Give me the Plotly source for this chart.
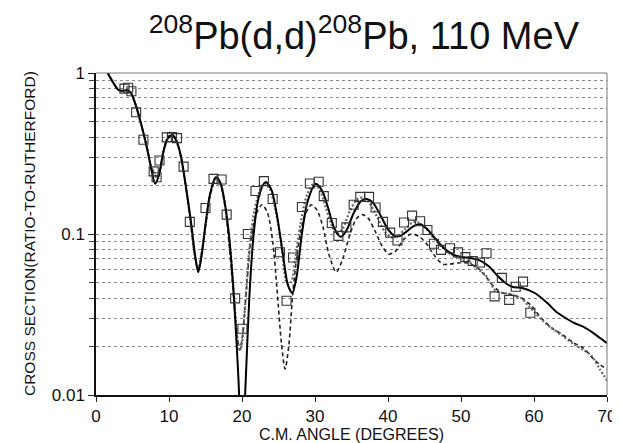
import plotly.graph_objects as go

# ---------------- data ----------------
exp_angle = [3.9, 4.4, 4.85, 5.5, 6.5, 7.9, 8.3, 8.7, 9.7, 10.4, 11.1, 12.0, 12.85,
             15.0, 16.1, 17.2, 17.9, 19.06, 20.06, 20.8, 21.85, 23.0, 24.2, 25.2,
             26.1, 27.0, 28.2, 29.3, 30.5, 31.2, 32.3, 33.2, 34.3, 35.3, 36.2, 37.4,
             38.3, 39.3, 40.3, 41.3, 42.2, 43.3, 44.4, 45.4, 46.3, 47.25, 48.5, 49.6,
             50.6, 51.6, 52.6, 53.5, 54.6, 55.6, 56.6, 57.5, 58.5, 59.5]
exp_ratio = [0.80, 0.81, 0.77, 0.57, 0.385, 0.245, 0.225, 0.286, 0.398, 0.40, 0.394, 0.262, 0.119,
             0.145, 0.22, 0.218, 0.132, 0.0398, 0.0258, 0.10, 0.185, 0.213, 0.165, 0.077,
             0.0385, 0.0714, 0.147, 0.206, 0.211, 0.172, 0.117, 0.0973, 0.110, 0.152, 0.170, 0.170,
             0.146, 0.119, 0.102, 0.0912, 0.118, 0.13, 0.12, 0.106, 0.087, 0.0797, 0.0815, 0.0769,
             0.0718, 0.068, 0.0665, 0.076, 0.041, 0.0534, 0.039, 0.047, 0.0506, 0.0324]

solid_angle = [1.6, 2.3, 3.0, 3.5, 4.3, 4.8, 5.5, 6.3, 7.0, 7.6, 8.1, 8.6, 9.2, 9.8, 10.4,
               11.0, 11.6, 12.3, 13.0, 13.5, 14.0, 14.5, 15.0, 15.6, 16.4, 17.0, 17.6,
               18.3, 18.9, 19.5, 20.0, 20.5, 21.0, 21.6, 22.3, 23.2, 24.0, 24.8, 25.6,
               26.3, 26.9, 27.5, 28.2, 29.0, 30.1, 31.0, 31.8, 32.6, 33.5, 34.3, 35.3,
               36.3, 37.1, 38.0, 39.0, 40.0, 41.0, 41.6, 42.5, 43.5, 44.4, 45.3, 46.2,
               47.5, 48.8, 50.0, 51.2, 52.4, 53.8, 55.0, 56.0, 57.0, 58.5, 60.1, 61.9,
               63.0, 64.1, 65.5, 66.8, 68.0, 69.1, 70.0]
solid_ratio = [1.0, 0.88, 0.79, 0.775, 0.78, 0.75, 0.62, 0.46, 0.34, 0.25, 0.205, 0.23, 0.32, 0.39, 0.41,
               0.38, 0.31, 0.20, 0.12, 0.078, 0.058, 0.075, 0.115, 0.175, 0.225, 0.21, 0.16,
               0.09, 0.04, 0.013, 0.004, 0.012, 0.04, 0.10, 0.17, 0.21, 0.19, 0.13, 0.075,
               0.048, 0.043, 0.055, 0.10, 0.16, 0.205, 0.185, 0.145, 0.11, 0.096, 0.105, 0.135,
               0.16, 0.165, 0.155, 0.13, 0.107, 0.097, 0.097, 0.103, 0.112, 0.115, 0.108, 0.097,
               0.083, 0.075, 0.072, 0.071, 0.069, 0.063, 0.055, 0.05, 0.047, 0.046, 0.043, 0.037,
               0.033, 0.0305, 0.028, 0.0265, 0.0245, 0.0225, 0.021]

dotted_angle = [1.6, 2.3, 3.0, 3.5, 4.3, 4.8, 5.5, 6.3, 7.0, 7.6, 8.3, 8.8, 9.4, 10.2, 10.8,
                11.5, 12.2, 12.9, 13.5, 14.0, 14.5, 15.1, 15.7, 16.5, 17.1, 17.7, 18.4,
                19.0, 19.4, 19.7, 20.0, 20.4, 21.0, 21.7, 22.6, 23.1, 23.8, 24.6, 25.4,
                26.2, 26.7, 27.3, 28.0, 28.9, 29.8, 30.6, 31.5, 32.3, 33.0, 33.8, 34.8,
                35.8, 36.6, 37.5, 38.5, 39.6, 40.6, 41.4, 42.4, 43.4, 44.2, 45.2, 46.2,
                47.5, 48.8, 50.0, 51.1, 52.2, 53.3, 54.0, 54.7, 55.6, 56.5, 57.5, 58.3,
                59.2, 60.1, 61.2, 62.3, 63.8, 65.5, 66.8, 67.9, 69.0, 70.0]
dotted_ratio = [1.0, 0.88, 0.79, 0.775, 0.78, 0.75, 0.62, 0.46, 0.34, 0.26, 0.225, 0.25, 0.35, 0.43, 0.40,
                0.32, 0.21, 0.125, 0.075, 0.06, 0.078, 0.12, 0.18, 0.225, 0.205, 0.15, 0.08,
                0.036, 0.022, 0.019, 0.021, 0.035, 0.08, 0.14, 0.195, 0.205, 0.19, 0.14, 0.085,
                0.049, 0.05, 0.07, 0.115, 0.175, 0.205, 0.19, 0.145, 0.112, 0.10, 0.108, 0.14,
                0.165, 0.168, 0.155, 0.128, 0.103, 0.095, 0.098, 0.108, 0.118, 0.118, 0.108, 0.095,
                0.082, 0.074, 0.07, 0.067, 0.061, 0.056, 0.05, 0.0445, 0.043, 0.0427, 0.041, 0.0398,
                0.036, 0.0325, 0.029, 0.0262, 0.0235, 0.0206, 0.019, 0.0175, 0.0145, 0.0123]

dashed_angle = [1.6, 2.3, 3.0, 3.5, 4.3, 4.8, 5.5, 6.3, 7.0, 7.6, 8.3, 8.8, 9.4, 10.2, 10.8,
                11.5, 12.2, 12.9, 13.5, 14.0, 14.5, 15.1, 15.7, 16.5, 17.1, 17.7, 18.3,
                18.9, 19.4, 19.7, 20.1, 20.6, 21.2, 22.0, 22.75, 23.5, 24.2, 24.8, 25.4,
                25.9, 26.4, 27.0, 27.8, 28.6, 29.5, 30.3, 31.1, 31.9, 32.9, 33.8, 34.8,
                35.7, 36.5, 37.3, 38.2, 39.2, 40.1, 41.0, 42.1, 43.2, 44.2, 45.2, 46.3,
                47.5, 48.5, 49.5, 51.0, 52.4, 53.3, 54.0, 55.0, 55.8, 57.0, 58.3, 59.6,
                61.0, 62.5, 64.0, 65.5, 66.8, 68.0, 69.0, 70.0]
dashed_ratio = [1.0, 0.88, 0.79, 0.775, 0.78, 0.75, 0.62, 0.46, 0.34, 0.26, 0.228, 0.255, 0.35, 0.42, 0.40,
                0.32, 0.21, 0.125, 0.075, 0.06, 0.078, 0.12, 0.18, 0.222, 0.20, 0.145, 0.08,
                0.038, 0.022, 0.019, 0.024, 0.045, 0.09, 0.135, 0.152, 0.135, 0.09, 0.045, 0.021,
                0.0145, 0.02, 0.045, 0.09, 0.13, 0.152, 0.14, 0.11, 0.075, 0.058, 0.07, 0.10,
                0.125, 0.132, 0.125, 0.105, 0.084, 0.075, 0.078, 0.092, 0.10, 0.097, 0.088, 0.074,
                0.065, 0.065, 0.066, 0.066, 0.061, 0.055, 0.05, 0.045, 0.043, 0.042, 0.040, 0.036,
                0.030, 0.026, 0.0235, 0.021, 0.0195, 0.017, 0.0155, 0.0144]

y_tickvals = [0.01, 0.1, 1]
y_ticktext = ["0.01", "0.1", "1"]
x_tickvals = [0, 10, 20, 30, 40, 50, 60, 70]

FONT = "Liberation Sans, Arial, Helvetica, sans-serif"

fig = go.Figure()
fig.add_trace(go.Scatter(x=dashed_angle, y=dashed_ratio, mode="lines",
                         line=dict(color="#222", width=1.6, dash="4px,3px", shape="spline", smoothing=0.8),
                         showlegend=False))
fig.add_trace(go.Scatter(x=dotted_angle, y=dotted_ratio, mode="lines",
                         line=dict(color="#666", width=2.2, dash="2px,2px", shape="spline", smoothing=0.8),
                         showlegend=False))
fig.add_trace(go.Scatter(x=solid_angle, y=solid_ratio, mode="lines",
                         line=dict(color="#000", width=2, shape="spline", smoothing=0.8),
                         showlegend=False))
fig.add_trace(go.Scatter(x=exp_angle, y=exp_ratio, mode="markers",
                         marker=dict(symbol="square-open", size=9, color="#333", line=dict(width=1.1)),
                         showlegend=False))

fig.update_layout(
    width=620, height=443,
    margin=dict(l=88, r=13, t=65, b=40),
    paper_bgcolor="white", plot_bgcolor="white",
    font=dict(family=FONT, color="#111"),
    title=dict(text="<sup>208</sup>Pb(d,d)<sup>208</sup>Pb, 110 MeV",
               font=dict(size=38, family=FONT, color="#111"),
               x=0.574, xref="container", xanchor="center",
               y=0.938, yref="container", yanchor="middle"),
    annotations=[dict(text="CROSS SECTION(RATIO-TO-RUTHERFORD)", textangle=-90,
                      xref="paper", yref="paper", x=-68/519, y=0.5,
                      xanchor="center", yanchor="middle", showarrow=False,
                      font=dict(size=15.5, family=FONT, color="#111"))],
)
fig.update_xaxes(range=[0, 70], tickvals=x_tickvals, ticks="outside", ticklen=5,
                 tickcolor="#222", showline=True, linecolor="#111", linewidth=1.5,
                 mirror=False, showgrid=False, zeroline=False,
                 tickfont=dict(size=17, family=FONT, color="#111"),
                 title=dict(text="C.M. ANGLE (DEGREES)", standoff=2,
                            font=dict(size=16, family=FONT, color="#111")))
fig.update_yaxes(type="log", range=[-2, 0], tickvals=y_tickvals, ticktext=y_ticktext,
                 ticks="outside", ticklen=6, tickcolor="#222",
                 showline=True, linecolor="#111", linewidth=1.5, mirror=False,
                 showgrid=True, gridcolor="#888", griddash="dot", gridwidth=1,
                 zeroline=False,
                 tickfont=dict(size=17, family=FONT, color="#111"),
                 minor=dict(dtick="D1", ticks="outside", ticklen=5, tickcolor="#444",
                            showgrid=True, gridcolor="#888", griddash="dot", gridwidth=1))
# light top and right frame
fig.add_shape(type="line", xref="paper", yref="paper", x0=0, x1=1, y0=1, y1=1,
              line=dict(color="#777", width=1))
fig.add_shape(type="line", xref="paper", yref="paper", x0=1, x1=1, y0=0, y1=1,
              line=dict(color="#777", width=1))

fig.write_html("out.html")
